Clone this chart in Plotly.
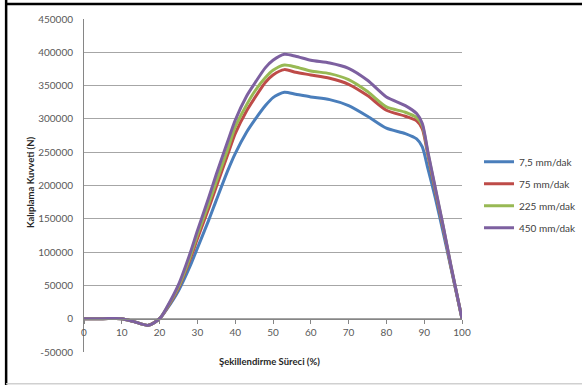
import plotly.graph_objects as go

# Şekillendirme süreci (%) – ortak x ekseni
surec = [0, 5, 10, 13, 17, 20, 22, 25, 28, 30, 33, 35, 38, 40, 43, 45, 48, 50,
         53, 56, 60, 65, 70, 75, 80, 85, 88, 89.5, 91, 93, 95, 97, 100]

# Kalıplama kuvveti (N), her pres hızı için
kuvvet_7_5 = [0, 0, 0, -4000, -10000, 0, 15000, 42000, 78000, 106000, 148000, 178000,
              222000, 248000, 280000, 297000, 320000, 332000, 340000, 337000, 333000,
              329000, 320000, 304000, 286000, 278000, 270000, 258000, 225000, 180000,
              130000, 78000, 0]
kuvvet_75 = [0, 0, 0, -4000, -10000, 0, 16000, 46000, 88000, 120000, 166000, 198000,
             246000, 278000, 312000, 330000, 355000, 366000, 374000, 370000, 366000,
             361000, 352000, 335000, 313000, 304000, 297000, 285000, 245000, 190000,
             137000, 80000, 0]
kuvvet_225 = [0, 0, 0, -4000, -10000, 0, 17000, 48000, 92000, 126000, 173000, 206000,
              254000, 288000, 321000, 340000, 362000, 373000, 381000, 378000, 372000,
              368000, 359000, 341000, 318000, 310000, 302000, 290000, 248000, 193000,
              139000, 81000, 0]
kuvvet_450 = [0, 0, 0, -4000, -10000, 0, 18000, 51000, 97000, 132000, 182000, 217000,
              266000, 298000, 334000, 352000, 377000, 388000, 397000, 394000, 388000,
              384000, 376000, 358000, 333000, 320000, 308000, 293000, 250000, 195000,
              140000, 82000, 0]

seriler = [
    ("7,5 mm/dak", kuvvet_7_5, "#4A7EBB"),
    ("75 mm/dak", kuvvet_75, "#BE4B48"),
    ("225 mm/dak", kuvvet_225, "#98B954"),
    ("450 mm/dak", kuvvet_450, "#7D60A0"),
]

x_ticks = list(range(0, 101, 10))
y_ticks = list(range(-50000, 450001, 50000))
y_tick_text = [str(v) for v in y_ticks]

FONT = "Lato"
GRI = "#595959"

fig = go.Figure()
for ad, deger, renk in seriler:
    fig.add_trace(go.Scatter(
        x=surec, y=deger, name=ad, mode="lines",
        legendgroup=ad,
        line=dict(color=renk, width=3, shape="spline", smoothing=0.7),
    ))

fig.update_layout(
    width=582, height=385,
    margin=dict(l=84, r=120, t=19, b=33, autoexpand=False),
    paper_bgcolor="white", plot_bgcolor="white",
    font=dict(family=FONT, size=10, color=GRI),
    showlegend=True,
    legend=dict(
        x=1.045, xanchor="left", y=0.615, yanchor="top",
        font=dict(family=FONT, size=10, color="#404040"),
        tracegroupgap=3, bgcolor="rgba(0,0,0,0)",
    ),
    xaxis=dict(
        range=[0, 100], tickvals=x_ticks, showgrid=False,
        anchor="free", position=0.1,
        showline=True, linecolor="#868686", linewidth=1,
        ticks="outside", ticklen=4, tickcolor="#868686",
        tickfont=dict(family=FONT, size=10, color=GRI),
        zeroline=False,
    ),
    yaxis=dict(
        range=[-50000, 450000], tickvals=y_ticks, ticktext=y_tick_text,
        showgrid=True, gridcolor="#A6A6A6", gridwidth=1,
        showline=True, linecolor="#868686", linewidth=1,
        zeroline=False, ticklabelstandoff=8,
        tickfont=dict(family=FONT, size=10, color=GRI),
    ),
    annotations=[
        dict(text="<b>Kalıplama Kuvveti (N)</b>", xref="paper", yref="paper",
             x=-0.143, y=0.51, xanchor="center", yanchor="middle",
             textangle=-90, showarrow=False,
             font=dict(family=FONT, size=9.5, color="#262626")),
        dict(text="<b>Şekillendirme Süreci (%)</b>", xref="paper", yref="paper",
             x=0.49, y=-0.03, xanchor="center", yanchor="middle", showarrow=False,
             font=dict(family=FONT, size=9.5, color="#262626")),
    ],
    shapes=[
        # grafik çerçevesi
        dict(type="line", xref="paper", yref="paper", x0=-0.206, x1=-0.206,
             y0=-0.1, y1=1.06, line=dict(color="black", width=2.5)),
        dict(type="line", xref="paper", yref="paper", x0=-0.206, x1=1.32,
             y0=1.045, y1=1.045, line=dict(color="black", width=2.5)),
        dict(type="line", xref="paper", yref="paper", x0=-0.206, x1=1.32,
             y0=-0.095, y1=-0.095, line=dict(color="#D0D0D0", width=1.5)),
    ],
)

fig.write_html("out.html")
